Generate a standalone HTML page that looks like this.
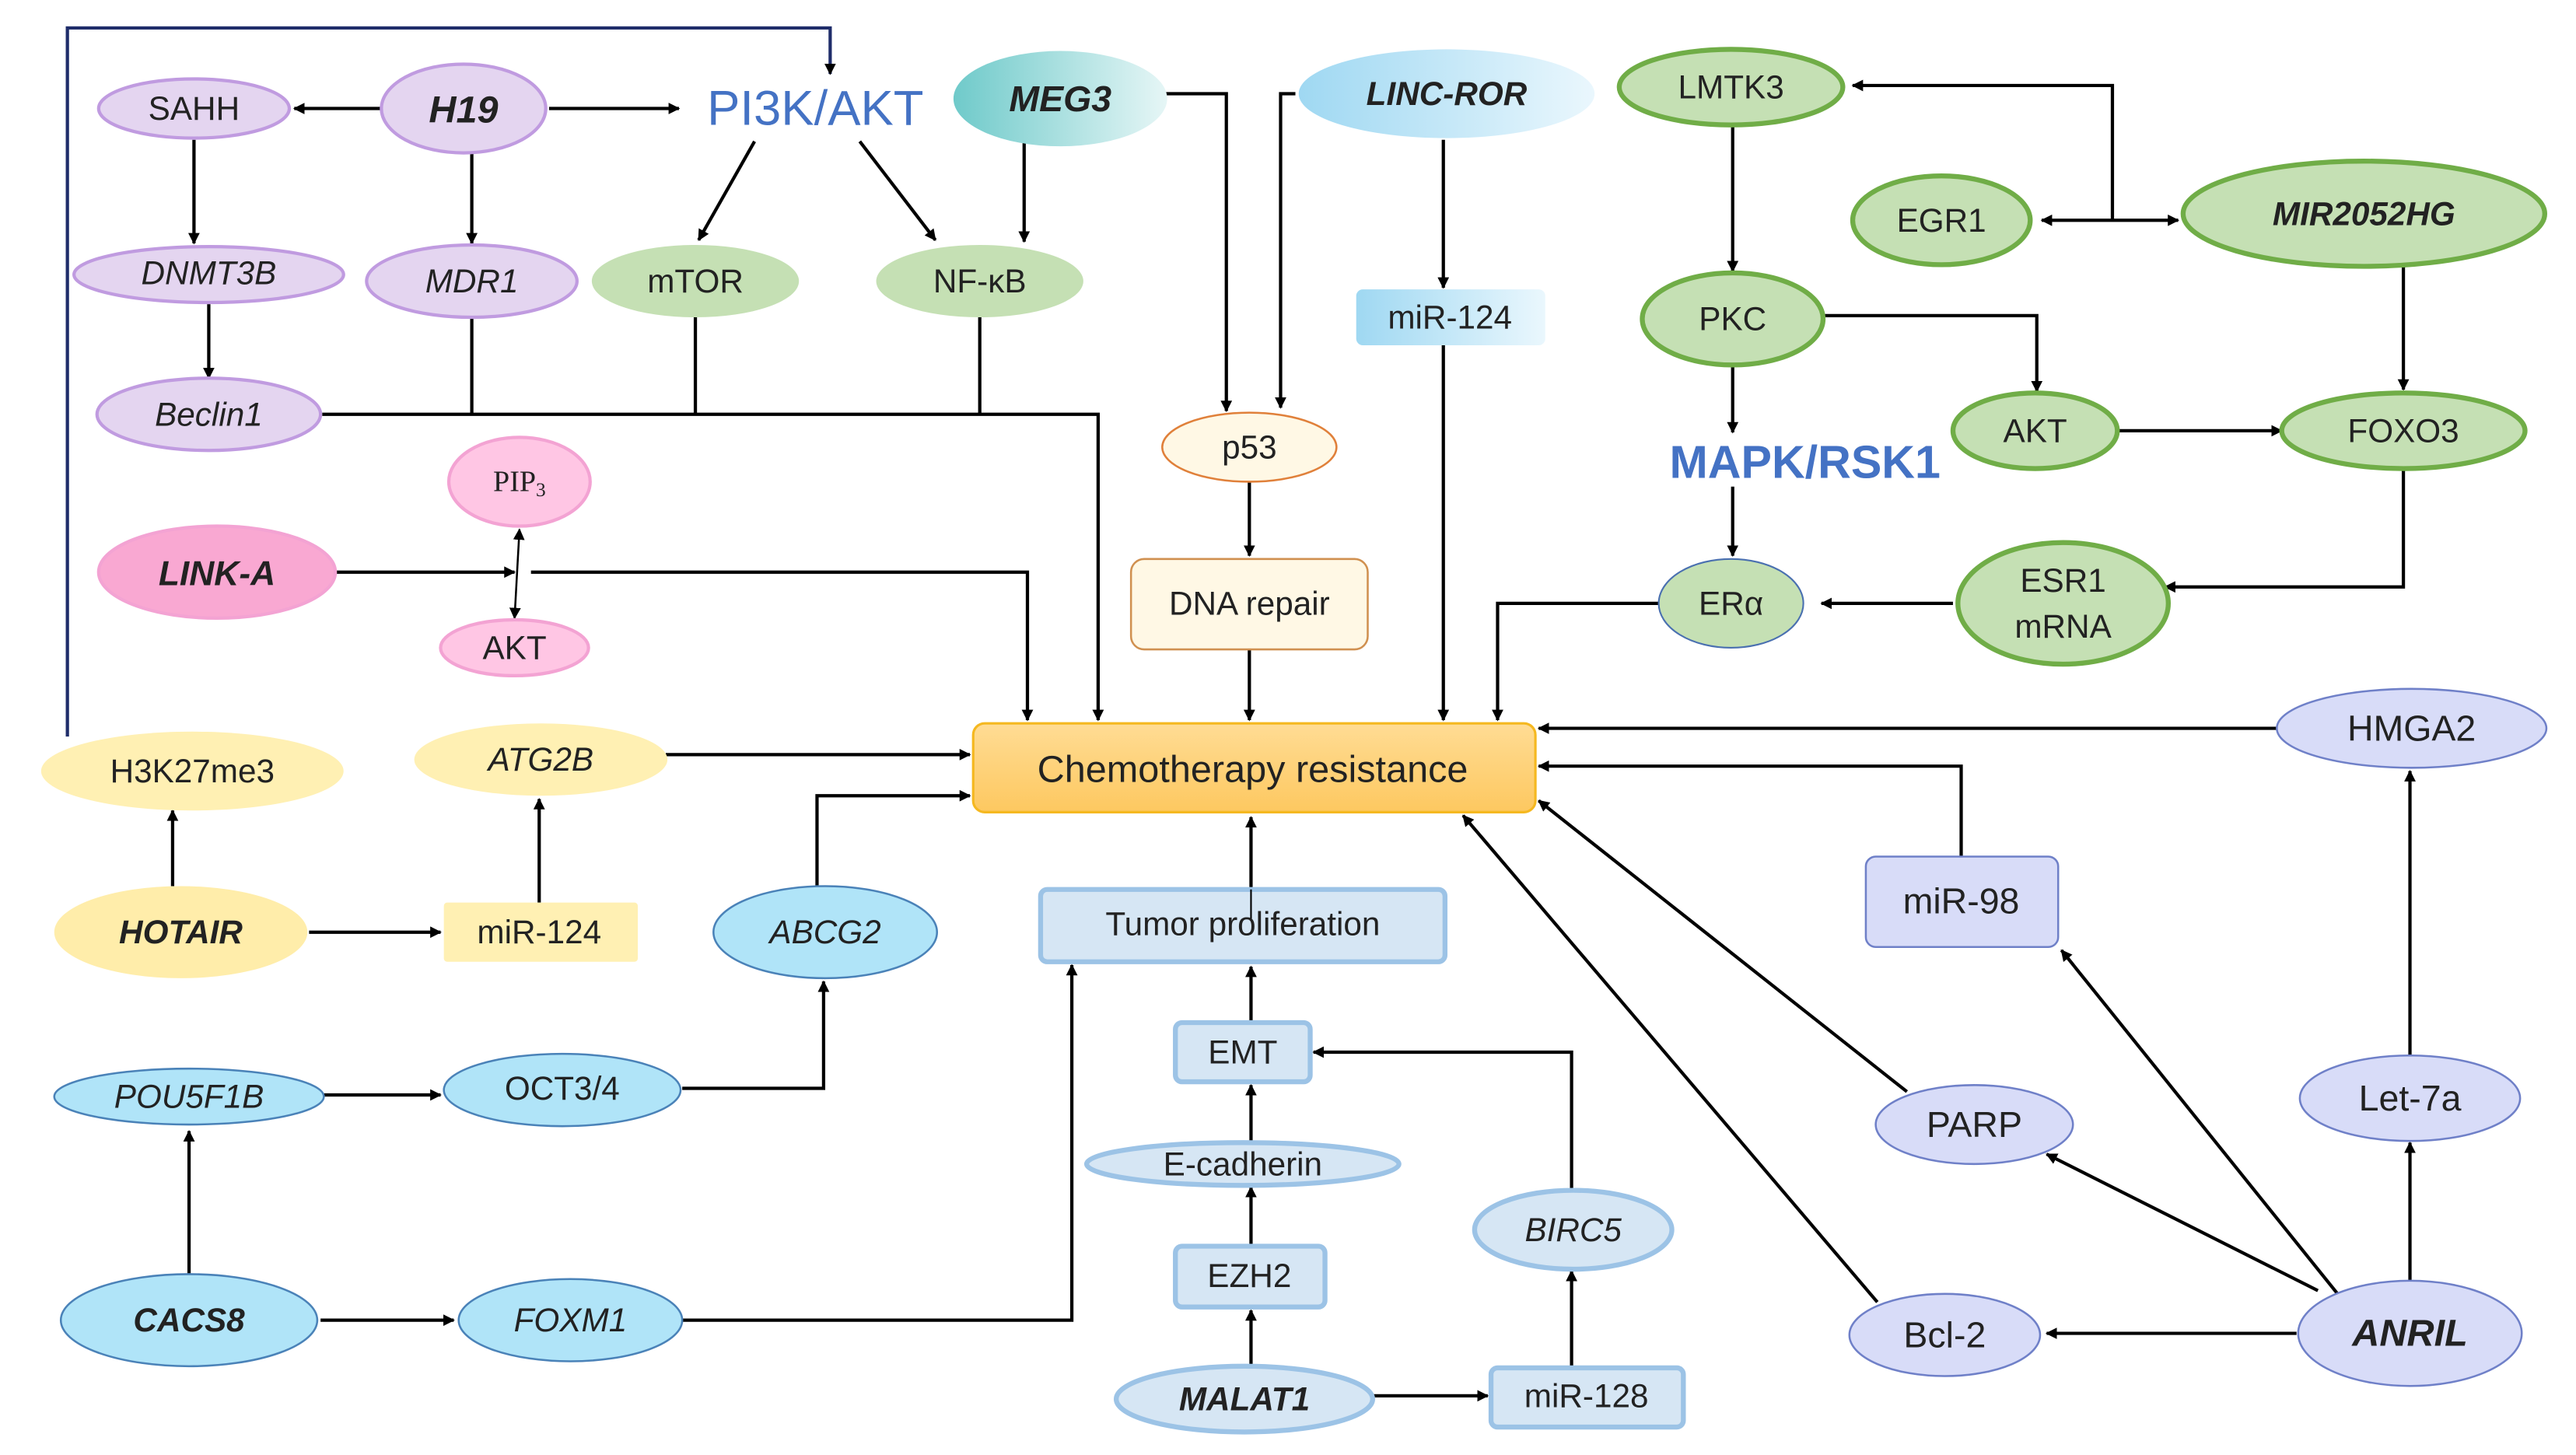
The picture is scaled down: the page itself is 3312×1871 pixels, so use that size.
<!DOCTYPE html>
<html><head><meta charset="utf-8"><style>html,body{margin:0;padding:0;background:#fff}svg{display:block}</style></head>
<body>
<svg width="3312" height="1871" viewBox="0 0 1567 885" preserveAspectRatio="none" xmlns="http://www.w3.org/2000/svg" font-family="'Liberation Sans Narrow','Liberation Sans',sans-serif">
<defs>
<marker id="a" viewBox="0 0 10 10" refX="9" refY="5" markerWidth="7" markerHeight="7" markerUnits="userSpaceOnUse" orient="auto-start-reverse"><path d="M0,0L10,5L0,10z" fill="#000"/></marker>
<linearGradient id="meg" x1="0" x2="1"><stop offset="0" stop-color="#6fcaca"/><stop offset="1" stop-color="#e6f6f6"/></linearGradient>
<linearGradient id="ror" x1="0" x2="1"><stop offset="0" stop-color="#9fd8f2"/><stop offset="1" stop-color="#eaf7fd"/></linearGradient>
<linearGradient id="chemo" x1="0" y1="0" x2="0" y2="1"><stop offset="0" stop-color="#ffdc94"/><stop offset="1" stop-color="#fdc860"/></linearGradient>
</defs>
<g fill="none" stroke="#000" stroke-width="2">
<polyline points="41,448 41,17 505,17 505,45" stroke="#1f2d6a" marker-end="url(#a)"/>
<line x1="232" y1="66" x2="179" y2="66" marker-end="url(#a)"/>
<line x1="334" y1="66" x2="413" y2="66" marker-end="url(#a)"/>
<line x1="118" y1="85" x2="118" y2="148" marker-end="url(#a)"/>
<line x1="287" y1="93" x2="287" y2="148" marker-end="url(#a)"/>
<line x1="459" y1="86" x2="425" y2="146" marker-end="url(#a)"/>
<line x1="523" y1="86" x2="569" y2="146" marker-end="url(#a)"/>
<line x1="623" y1="86" x2="623" y2="147" marker-end="url(#a)"/>
<line x1="127" y1="185" x2="127" y2="230" marker-end="url(#a)"/>
<polyline points="196,252 668,252 668,438" marker-end="url(#a)"/>
<line x1="287" y1="193" x2="287" y2="252"/>
<line x1="423" y1="193" x2="423" y2="252"/>
<line x1="596" y1="193" x2="596" y2="252"/>
<polyline points="708,57 746,57 746,250" marker-end="url(#a)"/>
<polyline points="788,57 779,57 779,248" marker-end="url(#a)"/>
<line x1="878" y1="85" x2="878" y2="175" marker-end="url(#a)"/>
<line x1="878" y1="210" x2="878" y2="438" marker-end="url(#a)"/>
<line x1="760" y1="293" x2="760" y2="338" marker-end="url(#a)"/>
<line x1="760" y1="395" x2="760" y2="438" marker-end="url(#a)"/>
<line x1="316" y1="322" x2="313" y2="376" stroke-width="1.2" marker-start="url(#a)" marker-end="url(#a)"/>
<line x1="204" y1="348" x2="313" y2="348" marker-end="url(#a)"/>
<polyline points="323,348 625,348 625,438" marker-end="url(#a)"/>
<line x1="405" y1="459" x2="590" y2="459" marker-end="url(#a)"/>
<line x1="105" y1="539" x2="105" y2="493" marker-end="url(#a)"/>
<line x1="188" y1="567" x2="268" y2="567" marker-end="url(#a)"/>
<line x1="328" y1="549" x2="328" y2="486" marker-end="url(#a)"/>
<polyline points="497,539 497,484 590,484" marker-end="url(#a)"/>
<line x1="197" y1="666" x2="268" y2="666" marker-end="url(#a)"/>
<polyline points="415,662 501,662 501,597" marker-end="url(#a)"/>
<line x1="115" y1="775" x2="115" y2="688" marker-end="url(#a)"/>
<line x1="195" y1="803" x2="276" y2="803" marker-end="url(#a)"/>
<polyline points="415,803 652,803 652,587" marker-end="url(#a)"/>
<line x1="761" y1="541" x2="761" y2="497" marker-end="url(#a)"/>
<line x1="761" y1="622" x2="761" y2="588" marker-end="url(#a)"/>
<line x1="761" y1="695" x2="761" y2="660" marker-end="url(#a)"/>
<line x1="761" y1="758" x2="761" y2="722" marker-end="url(#a)"/>
<line x1="761" y1="831" x2="761" y2="797" marker-end="url(#a)"/>
<line x1="835" y1="849" x2="905" y2="849" marker-end="url(#a)"/>
<line x1="956" y1="832" x2="956" y2="773" marker-end="url(#a)"/>
<polyline points="956,724 956,640 799,640" marker-end="url(#a)"/>
<line x1="1242" y1="134" x2="1325" y2="134" marker-start="url(#a)" marker-end="url(#a)"/>
<polyline points="1285,134 1285,52 1127,52" marker-end="url(#a)"/>
<line x1="1054" y1="76" x2="1054" y2="165" marker-end="url(#a)"/>
<polyline points="1108,192 1239,192 1239,238" marker-end="url(#a)"/>
<line x1="1054" y1="222" x2="1054" y2="263" marker-end="url(#a)"/>
<line x1="1054" y1="296" x2="1054" y2="338" marker-end="url(#a)"/>
<line x1="1289" y1="262" x2="1388" y2="262" marker-end="url(#a)"/>
<line x1="1462" y1="162" x2="1462" y2="237" marker-end="url(#a)"/>
<polyline points="1462,286 1462,357 1317,357" marker-end="url(#a)"/>
<line x1="1188" y1="367" x2="1108" y2="367" marker-end="url(#a)"/>
<polyline points="1009,367 911,367 911,438" marker-end="url(#a)"/>
<line x1="1385" y1="443" x2="936" y2="443" marker-end="url(#a)"/>
<polyline points="1193,521 1193,466 936,466" marker-end="url(#a)"/>
<line x1="1160" y1="664" x2="936" y2="487" marker-end="url(#a)"/>
<line x1="1142" y1="792" x2="890" y2="496" marker-end="url(#a)"/>
<line x1="1397" y1="811" x2="1245" y2="811" marker-end="url(#a)"/>
<line x1="1410" y1="785" x2="1245" y2="702" marker-end="url(#a)"/>
<line x1="1422" y1="787" x2="1254" y2="578" marker-end="url(#a)"/>
<line x1="1466" y1="779" x2="1466" y2="695" marker-end="url(#a)"/>
<line x1="1466" y1="642" x2="1466" y2="469" marker-end="url(#a)"/>
</g>
<g fill="#e4d5f0" stroke="#c09be0" stroke-width="2">
<ellipse cx="282" cy="66" rx="50" ry="27"/>
<ellipse cx="118" cy="66" rx="58" ry="18"/>
<ellipse cx="127" cy="167" rx="82" ry="17"/>
<ellipse cx="287" cy="171" rx="64" ry="22"/>
<ellipse cx="127" cy="252" rx="68" ry="22"/>
</g>
<g fill="#c5e0b4">
<ellipse cx="423" cy="171" rx="63" ry="22"/>
<ellipse cx="596" cy="171" rx="63" ry="22"/>
</g>
<ellipse cx="645" cy="60" rx="65" ry="29" fill="url(#meg)"/>
<ellipse cx="880" cy="57" rx="90" ry="27" fill="url(#ror)"/>
<rect x="825" y="176" width="115" height="34" rx="4" fill="url(#ror)"/>
<ellipse cx="760" cy="272" rx="53" ry="21" fill="#fff8e5" stroke="#e0803a" stroke-width="1.2"/>
<rect x="688" y="340" width="144" height="55" rx="8" fill="#fff8e5" stroke="#d09050" stroke-width="1.2"/>
<rect x="592" y="440" width="342" height="54" rx="7" fill="url(#chemo)" stroke="#f5b820" stroke-width="1.5"/>
<g fill="#ffc6e4" stroke="#f3a3d3" stroke-width="2">
<ellipse cx="316" cy="293" rx="43" ry="27"/>
<ellipse cx="313" cy="394" rx="45" ry="17"/>
<ellipse cx="132" cy="348" rx="72" ry="28" fill="#f9a8d2"/>
</g>
<g fill="#fff0b3">
<ellipse cx="117" cy="469" rx="92" ry="24"/>
<ellipse cx="329" cy="462" rx="77" ry="22"/>
<ellipse cx="110" cy="567" rx="77" ry="28" fill="#ffedaa"/>
<rect x="270" y="549" width="118" height="36" rx="2"/>
</g>
<g fill="#b0e4f8" stroke="#4a82b8" stroke-width="1.2">
<ellipse cx="502" cy="567" rx="68" ry="28"/>
<ellipse cx="115" cy="667" rx="82" ry="17"/>
<ellipse cx="342" cy="663" rx="72" ry="22"/>
<ellipse cx="115" cy="803" rx="78" ry="28"/>
<ellipse cx="347" cy="803" rx="68" ry="25"/>
</g>
<g fill="#d6e6f4" stroke="#9cc3e6" stroke-width="3">
<rect x="633" y="541" width="246" height="44" rx="4"/>
<rect x="715" y="622" width="82" height="36" rx="4"/>
<ellipse cx="756" cy="708" rx="95" ry="13"/>
<rect x="715" y="758" width="91" height="37" rx="4"/>
<ellipse cx="757" cy="851" rx="78" ry="20"/>
<rect x="907" y="832" width="117" height="36" rx="4"/>
<ellipse cx="957" cy="748" rx="60" ry="24"/>
</g>
<line x1="761" y1="541" x2="761" y2="560" stroke="#000" stroke-width="1"/>
<g fill="#c5e0b4" stroke="#70ad47" stroke-width="3">
<ellipse cx="1053" cy="53" rx="68" ry="23"/>
<ellipse cx="1181" cy="134" rx="54" ry="27"/>
<ellipse cx="1438" cy="130" rx="110" ry="32"/>
<ellipse cx="1054" cy="194" rx="55" ry="28"/>
<ellipse cx="1238" cy="262" rx="50" ry="23"/>
<ellipse cx="1462" cy="262" rx="74" ry="23"/>
<ellipse cx="1255" cy="367" rx="64" ry="37"/>
</g>
<ellipse cx="1053" cy="367" rx="44" ry="27" fill="#c5e0b4" stroke="#4a70b0" stroke-width="1"/>
<g fill="#d8dcf8" stroke="#6f80c8" stroke-width="1.2">
<ellipse cx="1467" cy="443" rx="82" ry="24"/>
<rect x="1135" y="521" width="117" height="55" rx="6"/>
<ellipse cx="1201" cy="684" rx="60" ry="24"/>
<ellipse cx="1183" cy="812" rx="58" ry="25"/>
<ellipse cx="1466" cy="811" rx="68" ry="32"/>
<ellipse cx="1466" cy="668" rx="67" ry="26"/>
</g>
<g font-size="20" fill="#222" text-anchor="middle" dominant-baseline="central">
<text x="282" y="67" font-weight="bold" font-style="italic" font-size="23">H19</text>
<text x="118" y="66">SAHH</text>
<text x="127" y="166" font-style="italic">DNMT3B</text>
<text x="287" y="171" font-style="italic">MDR1</text>
<text x="127" y="252" font-style="italic">Beclin1</text>
<text x="423" y="171">mTOR</text>
<text x="596" y="171">NF-κB</text>
<text x="496" y="66" font-size="30" fill="#4472c4">PI3K/AKT</text>
<text x="645" y="60" font-weight="bold" font-style="italic" font-size="22">MEG3</text>
<text x="880" y="57" font-weight="bold" font-style="italic">LINC-ROR</text>
<text x="882" y="193">miR-124</text>
<text x="760" y="272">p53</text>
<text x="760" y="367">DNA repair</text>
<text x="762" y="468" font-size="23">Chemotherapy resistance</text>
<text x="316" y="293" font-family="'Liberation Serif',serif" font-size="18">PIP<tspan font-size="12" dy="5">3</tspan></text>
<text x="313" y="394">AKT</text>
<text x="132" y="349" font-weight="bold" font-style="italic" font-size="21">LINK-A</text>
<text x="117" y="469">H3K27me3</text>
<text x="329" y="462" font-style="italic">ATG2B</text>
<text x="110" y="567" font-weight="bold" font-style="italic">HOTAIR</text>
<text x="328" y="567">miR-124</text>
<text x="502" y="567" font-style="italic">ABCG2</text>
<text x="115" y="667" font-style="italic">POU5F1B</text>
<text x="342" y="662">OCT3/4</text>
<text x="115" y="803" font-weight="bold" font-style="italic">CACS8</text>
<text x="347" y="803" font-style="italic">FOXM1</text>
<text x="756" y="562">Tumor proliferation</text>
<text x="756" y="640">EMT</text>
<text x="756" y="708">E-cadherin</text>
<text x="760" y="776">EZH2</text>
<text x="757" y="851" font-weight="bold" font-style="italic">MALAT1</text>
<text x="965" y="849">miR-128</text>
<text x="957" y="748" font-style="italic">BIRC5</text>
<text x="1053" y="53">LMTK3</text>
<text x="1181" y="134">EGR1</text>
<text x="1438" y="130" font-weight="bold" font-style="italic">MIR2052HG</text>
<text x="1054" y="194">PKC</text>
<text x="1098" y="281" font-size="28" font-weight="bold" fill="#4472c4">MAPK/RSK1</text>
<text x="1238" y="262">AKT</text>
<text x="1462" y="262">FOXO3</text>
<text x="1255" y="353">ESR1</text>
<text x="1255" y="381">mRNA</text>
<text x="1053" y="367">ERα</text>
<text x="1467" y="443" font-size="22">HMGA2</text>
<text x="1193" y="548" font-size="22">miR-98</text>
<text x="1201" y="684" font-size="22">PARP</text>
<text x="1183" y="812" font-size="22">Bcl-2</text>
<text x="1466" y="811" font-size="23" font-weight="bold" font-style="italic">ANRIL</text>
<text x="1466" y="668" font-size="22">Let-7a</text>
</g>
</svg>
</body></html>
